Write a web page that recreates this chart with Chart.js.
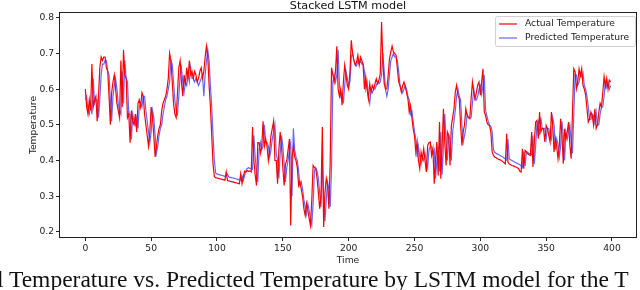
<!DOCTYPE html>
<html>
<head>
<meta charset="utf-8">
<script src="https://cdn.jsdelivr.net/npm/chart.js@4/dist/chart.umd.min.js"></script>
<style>
  body { margin: 0; background: #fff; }
  #wrap { position: relative; width: 640px; height: 290px; overflow: hidden; }
  #myChart { position: absolute; left: 0; top: 0; }
  #caption {
    position: absolute; left: -3px; top: 266px; white-space: nowrap;
    font-family: "Liberation Serif", serif; font-size: 23.5px; color: #111;
  }
</style>
</head>
<body>
<div id="wrap">
  <canvas id="myChart" width="640" height="290"></canvas>
  <div id="caption">l Temperature vs. Predicted Temperature by LSTM model for the T</div>
</div>
<script>
const chartTitle = "Stacked LSTM model";
const xTitle = "Time";
const yTitle = "Temperature";
const seriesNames = ["Actual Temperature", "Predicted Temperature"];
const xTicks = [0, 50, 100, 150, 200, 250, 300, 350, 400];
const yTicks = [0.2, 0.3, 0.4, 0.5, 0.6, 0.7, 0.8];

const actual = [
  0.60, 0.55, 0.53, 0.57, 0.54, 0.67, 0.55, 0.57, 0.58, 0.51,
  0.58, 0.66, 0.69, 0.68, 0.69, 0.69, 0.66, 0.65, 0.58, 0.50,
  0.59, 0.62, 0.64, 0.60, 0.56, 0.54, 0.52, 0.68, 0.55, 0.71,
  0.64, 0.63, 0.52, 0.53, 0.45, 0.54, 0.51, 0.50, 0.53, 0.48,
  0.56, 0.57, 0.55, 0.59, 0.58, 0.53, 0.50, 0.47, 0.44, 0.48,
  0.55, 0.52, 0.47, 0.41, 0.44, 0.47, 0.49, 0.50, 0.54, 0.56,
  0.57, 0.58, 0.60, 0.63, 0.70, 0.68, 0.62, 0.56, 0.53, 0.52,
  0.59, 0.66, 0.68, 0.62, 0.58, 0.64, 0.61, 0.66, 0.63, 0.68,
  0.64, 0.65, 0.63, 0.65, 0.64, 0.62, 0.63, 0.65, 0.66, 0.63,
  0.65, 0.69, 0.72, 0.69, 0.61, 0.55, 0.47, 0.39, 0.355, 0.352,
  0.351, 0.350, 0.349, 0.348, 0.347, 0.346, 0.345, 0.368, 0.344, 0.343,
  0.342, 0.341, 0.340, 0.339, 0.338, 0.337, 0.336, 0.335, 0.363, 0.335,
  0.355, 0.370, 0.368, 0.372, 0.370, 0.371, 0.368, 0.494, 0.40, 0.36,
  0.33, 0.45, 0.45, 0.42, 0.44, 0.51, 0.44, 0.46, 0.44, 0.40,
  0.43, 0.47, 0.49, 0.51, 0.40, 0.40, 0.335, 0.43, 0.48, 0.44,
  0.38, 0.33, 0.39, 0.40, 0.43, 0.46, 0.218, 0.41, 0.44, 0.41,
  0.40, 0.38, 0.33, 0.34, 0.32, 0.30, 0.265, 0.246, 0.28, 0.26,
  0.237, 0.218, 0.29, 0.386, 0.38, 0.377, 0.35, 0.31, 0.265, 0.30,
  0.494, 0.214, 0.31, 0.35, 0.33, 0.265, 0.40, 0.66, 0.64, 0.62,
  0.65, 0.72, 0.60, 0.58, 0.60, 0.555, 0.62, 0.667, 0.64, 0.61,
  0.60, 0.65, 0.737, 0.70, 0.68, 0.667, 0.676, 0.695, 0.667, 0.69,
  0.68, 0.667, 0.60, 0.634, 0.60, 0.573, 0.615, 0.592, 0.61, 0.60,
  0.615, 0.629, 0.615, 0.625, 0.643, 0.788, 0.676, 0.615, 0.60, 0.601,
  0.638, 0.685, 0.704, 0.72, 0.704, 0.70, 0.695, 0.657, 0.62, 0.61,
  0.592, 0.61, 0.62, 0.606, 0.59, 0.573, 0.536, 0.554, 0.52, 0.489,
  0.47, 0.424, 0.452, 0.40, 0.377, 0.424, 0.405, 0.433, 0.40, 0.368,
  0.442, 0.45, 0.452, 0.414, 0.433, 0.335, 0.405, 0.452, 0.358, 0.508,
  0.349, 0.442, 0.545, 0.452, 0.386, 0.48, 0.47, 0.386, 0.498, 0.52,
  0.545, 0.592, 0.611, 0.583, 0.573, 0.50, 0.442, 0.48, 0.50, 0.545,
  0.526, 0.52, 0.517, 0.573, 0.62, 0.592, 0.573, 0.59, 0.611, 0.62,
  0.583, 0.62, 0.657, 0.536, 0.526, 0.508, 0.50, 0.498, 0.48, 0.424,
  0.414, 0.41, 0.408, 0.405, 0.403, 0.402, 0.40, 0.397, 0.394, 0.391,
  0.475, 0.396, 0.390, 0.388, 0.386, 0.385, 0.383, 0.382, 0.380, 0.378,
  0.370, 0.368, 0.433, 0.377, 0.428, 0.424, 0.419, 0.416, 0.414, 0.48,
  0.382, 0.45, 0.508, 0.512, 0.461, 0.536, 0.48, 0.49, 0.489, 0.452,
  0.498, 0.489, 0.47, 0.452, 0.536, 0.498, 0.424, 0.461, 0.44, 0.405,
  0.442, 0.517, 0.47, 0.391, 0.489, 0.461, 0.48, 0.508, 0.442, 0.405,
  0.536, 0.657, 0.648, 0.601, 0.62, 0.657, 0.638, 0.657, 0.61, 0.60,
  0.583, 0.545, 0.508, 0.517, 0.536, 0.526, 0.50, 0.545, 0.49, 0.50,
  0.535, 0.56, 0.55, 0.59, 0.635, 0.607, 0.63, 0.60, 0.625, 0.62
];

const predicted = [
  0.57, 0.58, 0.54, 0.53, 0.56, 0.53, 0.63, 0.56, 0.57, 0.57,
  0.52, 0.57, 0.64, 0.67, 0.67, 0.68, 0.68, 0.65, 0.64, 0.57,
  0.51, 0.58, 0.61, 0.63, 0.60, 0.56, 0.54, 0.53, 0.65, 0.56,
  0.68, 0.63, 0.62, 0.53, 0.53, 0.46, 0.53, 0.51, 0.50, 0.52,
  0.49, 0.55, 0.56, 0.55, 0.58, 0.58, 0.54, 0.51, 0.48, 0.45,
  0.48, 0.54, 0.52, 0.47, 0.42, 0.44, 0.47, 0.49, 0.50, 0.53,
  0.55, 0.57, 0.58, 0.60, 0.62, 0.68, 0.67, 0.62, 0.57, 0.54,
  0.53, 0.58, 0.64, 0.66, 0.62, 0.59, 0.62, 0.61, 0.64, 0.62,
  0.66, 0.63, 0.63, 0.62, 0.63, 0.62, 0.61, 0.62, 0.63, 0.64,
  0.58, 0.64, 0.68, 0.71, 0.68, 0.61, 0.55, 0.47, 0.40, 0.365,
  0.362, 0.361, 0.360, 0.359, 0.358, 0.357, 0.356, 0.358, 0.362, 0.354,
  0.353, 0.352, 0.351, 0.350, 0.349, 0.348, 0.347, 0.346, 0.345, 0.357,
  0.345, 0.358, 0.372, 0.378, 0.380, 0.378, 0.377, 0.375, 0.47, 0.41,
  0.37, 0.34, 0.43, 0.45, 0.43, 0.44, 0.50, 0.45, 0.45, 0.44,
  0.41, 0.43, 0.46, 0.48, 0.50, 0.42, 0.40, 0.35, 0.42, 0.47,
  0.44, 0.39, 0.34, 0.38, 0.40, 0.43, 0.45, 0.30, 0.49, 0.43,
  0.41, 0.40, 0.37, 0.33, 0.34, 0.32, 0.29, 0.27, 0.25, 0.28,
  0.26, 0.24, 0.22, 0.28, 0.37, 0.38, 0.37, 0.35, 0.31, 0.27,
  0.40, 0.30, 0.23, 0.29, 0.34, 0.32, 0.27, 0.38, 0.62, 0.64,
  0.62, 0.64, 0.71, 0.61, 0.58, 0.59, 0.56, 0.61, 0.65, 0.63,
  0.61, 0.62, 0.69, 0.70, 0.68, 0.67, 0.665, 0.68, 0.67, 0.68,
  0.67, 0.67, 0.65, 0.60, 0.62, 0.58, 0.56, 0.60, 0.59, 0.60,
  0.60, 0.61, 0.62, 0.615, 0.62, 0.64, 0.70, 0.65, 0.60, 0.58,
  0.60, 0.64, 0.68, 0.69, 0.70, 0.69, 0.69, 0.68, 0.65, 0.61,
  0.60, 0.59, 0.60, 0.61, 0.60, 0.58, 0.57, 0.53, 0.54, 0.51,
  0.48, 0.46, 0.41, 0.44, 0.41, 0.39, 0.41, 0.40, 0.42, 0.40,
  0.38, 0.43, 0.44, 0.44, 0.42, 0.43, 0.35, 0.40, 0.44, 0.37,
  0.48, 0.36, 0.44, 0.53, 0.45, 0.40, 0.47, 0.46, 0.40, 0.48,
  0.51, 0.54, 0.58, 0.60, 0.58, 0.57, 0.50, 0.45, 0.47, 0.49,
  0.53, 0.52, 0.52, 0.52, 0.56, 0.60, 0.57, 0.57, 0.58, 0.60,
  0.61, 0.585, 0.61, 0.64, 0.54, 0.525, 0.51, 0.50, 0.495, 0.48,
  0.43, 0.423, 0.420, 0.418, 0.416, 0.414, 0.412, 0.410, 0.407, 0.404,
  0.401, 0.46, 0.405, 0.402, 0.400, 0.398, 0.396, 0.394, 0.392, 0.390,
  0.388, 0.385, 0.38, 0.425, 0.385, 0.425, 0.423, 0.42, 0.418, 0.416,
  0.47, 0.39, 0.44, 0.50, 0.51, 0.47, 0.52, 0.49, 0.49, 0.49,
  0.46, 0.49, 0.49, 0.47, 0.46, 0.52, 0.50, 0.43, 0.46, 0.445,
  0.41, 0.44, 0.51, 0.47, 0.40, 0.48, 0.46, 0.48, 0.50, 0.45,
  0.42, 0.53, 0.64, 0.64, 0.61, 0.62, 0.645, 0.635, 0.645, 0.61,
  0.60, 0.58, 0.55, 0.515, 0.515, 0.53, 0.525, 0.505, 0.535, 0.50,
  0.50, 0.53, 0.55, 0.55, 0.58, 0.62, 0.605, 0.62, 0.60, 0.61
];

const lineColors = ["rgb(255,0,0)", "rgba(0,0,255,0.6)"];
const textFont = "DejaVu Sans";

// matplotlib style box around the plot area + title + legend
const frameAndLegend = {
  id: "frameAndLegend",
  afterDraw(chart) {
    const ctx = chart.ctx;
    const { left, top, width, height } = chart.chartArea;
    ctx.save();
    ctx.strokeStyle = "#222";
    ctx.lineWidth = 1;
    ctx.strokeRect(left + 0.5, top + 0.5, width - 1, height - 1);

    ctx.fillStyle = "#111";
    ctx.font = `11.2px "${textFont}"`;
    ctx.textAlign = "center";
    ctx.textBaseline = "alphabetic";
    ctx.fillText(chartTitle, left + width / 2, 9);

    // legend box
    const lx = 495, ly = 16, lw = 140, lh = 30;
    ctx.fillStyle = "rgba(255,255,255,0.85)";
    ctx.strokeStyle = "#d0d0d0";
    ctx.beginPath();
    ctx.roundRect(lx + 0.5, ly + 0.5, lw, lh, 2);
    ctx.fill();
    ctx.stroke();
    ctx.font = `9.2px "${textFont}"`;
    ctx.textAlign = "left";
    ctx.textBaseline = "middle";
    seriesNames.forEach((name, i) => {
      const y = ly + 8 + i * 14;
      ctx.strokeStyle = lineColors[i];
      ctx.lineWidth = 1.2;
      ctx.beginPath();
      ctx.moveTo(lx + 4, y);
      ctx.lineTo(lx + 22, y);
      ctx.stroke();
      ctx.fillStyle = "#222";
      ctx.fillText(name, lx + 30, y);
    });
    ctx.restore();
  },
};

const times = actual.map((_, i) => i);

const config = {
  type: "line",
  data: {
    datasets: [
      {
        label: seriesNames[0],
        data: times.map((t) => ({ x: t, y: actual[t] })),
        borderColor: lineColors[0],
        borderWidth: 1.2,
        pointRadius: 0,
        tension: 0,
      },
      {
        label: seriesNames[1],
        data: times.map((t) => ({ x: t, y: predicted[t] })),
        borderColor: lineColors[1],
        borderWidth: 1.2,
        pointRadius: 0,
        tension: 0,
      },
    ],
  },
  options: {
    responsive: false,
    animation: false,
    layout: { padding: { top: 12, right: 3, left: 0, bottom: 22 } },
    plugins: {
      legend: { display: false },
      title: { display: false },
      tooltip: { enabled: false },
    },
    scales: {
      x: {
        type: "linear",
        min: -20,
        max: 419,
        afterBuildTicks: (scale) => {
          scale.ticks = xTicks.map((v) => ({ value: v }));
        },
        afterFit: (scale) => {
          scale.height = 30;
        },
        grid: { drawOnChartArea: false, drawTicks: true, tickLength: 3, color: "#222" },
        border: { display: false },
        ticks: {
          padding: 2,
          color: "#222",
          maxRotation: 0,
          font: { family: textFont, size: 9.2 },
          callback: (v) => String(v),
        },
        title: {
          display: true,
          text: xTitle,
          color: "#222",
          font: { family: textFont, size: 9.2 },
          padding: { top: 0, bottom: 2 },
        },
      },
      y: {
        min: 0.183,
        max: 0.816,
        afterBuildTicks: (scale) => {
          scale.ticks = yTicks.map((v) => ({ value: v }));
        },
        afterFit: (scale) => {
          scale.width = 59;
        },
        grid: { drawOnChartArea: false, drawTicks: true, tickLength: 3, color: "#222" },
        border: { display: false },
        ticks: {
          padding: 2,
          color: "#222",
          font: { family: textFont, size: 9.2 },
          callback: (v) => v.toFixed(1),
        },
        title: {
          display: true,
          text: yTitle,
          color: "#222",
          font: { family: textFont, size: 9.2 },
          padding: { top: 28, bottom: 0 },
        },
      },
    },
  },
  plugins: [frameAndLegend],
};

const myChart = new Chart(document.getElementById("myChart"), config);
</script>
</body>
</html>
